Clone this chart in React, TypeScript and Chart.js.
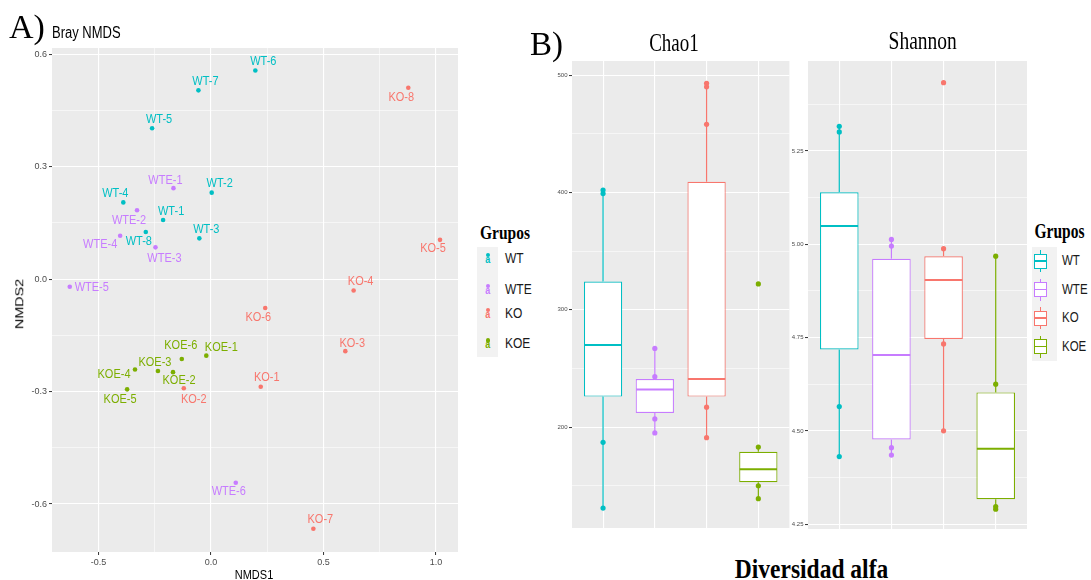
import React, { useEffect, useRef } from "react";
import { Chart, registerables } from "chart.js";

Chart.register(...registerables);

const SANS = '"Liberation Sans", Arial, Helvetica, sans-serif';
const SERIF = '"Liberation Serif", "Times New Roman", Times, serif';

const groups = ["WT", "WTE", "KO", "KOE"];
const groupColors = ["#00BFC4", "#C77CFF", "#F8766D", "#7CAE00"];

// ---------- Panel A: Bray NMDS ----------
const wtSamples = ["WT-1", "WT-2", "WT-3", "WT-4", "WT-5", "WT-6", "WT-7", "WT-8"];
const wtNMDS1 = [-0.213, 0.003, -0.052, -0.39, -0.262, 0.197, -0.056, -0.29];
const wtNMDS2 = [0.158, 0.231, 0.109, 0.205, 0.403, 0.557, 0.504, 0.126];

const wteSamples = ["WTE-1", "WTE-2", "WTE-3", "WTE-4", "WTE-5", "WTE-6"];
const wteNMDS1 = [-0.167, -0.329, -0.247, -0.404, -0.628, 0.11];
const wteNMDS2 = [0.243, 0.184, 0.085, 0.116, -0.02, -0.543];

const koSamples = ["KO-1", "KO-2", "KO-3", "KO-4", "KO-5", "KO-6", "KO-7", "KO-8"];
const koNMDS1 = [0.221, -0.121, 0.597, 0.634, 1.018, 0.241, 0.455, 0.877];
const koNMDS2 = [-0.287, -0.291, -0.192, -0.03, 0.105, -0.077, -0.666, 0.511];

const koeSamples = ["KOE-1", "KOE-2", "KOE-3", "KOE-4", "KOE-5", "KOE-6"];
const koeNMDS1 = [-0.021, -0.169, -0.236, -0.338, -0.373, -0.13];
const koeNMDS2 = [-0.204, -0.248, -0.245, -0.241, -0.294, -0.213];

// repelled label placement (pixel offsets from each point)
const wtLabelOffsets = [[8, -9], [8, -9], [7, -9], [-8, -9], [7, -9], [8, -9], [7, -9], [-7, 9]];
const wteLabelOffsets = [[-8, -8], [-8, 10], [9, 11], [-20, 9], [22, 1], [-7, 9]];
const koLabelOffsets = [[6, -9], [10, 11], [7, -8], [7, -9], [-7, 9], [-7, 9], [7, -9], [-7, 10]];
const koeLabelOffsets = [[15, -8], [6, 8], [-3, -9], [-21, 5], [-7, 10], [-1, -14]];

const nmds1Ticks = [-0.5, 0, 0.5, 1.0];
const nmds1MinorTicks = [-0.25, 0.25, 0.75];
const nmds2Ticks = [-0.6, -0.3, 0, 0.3, 0.6];
const nmds2MinorTicks = [-0.45, -0.15, 0.15, 0.45];
const nmds1Range = [-0.707, 1.098];
const nmds2Range = [-0.728, 0.617];

// ---------- Panel B: alpha diversity ----------
const chao1Min = [131, 195, 191, 139];
const chao1Q1 = [226, 212, 226, 153];
const chao1Median = [270, 232, 241, 164];
const chao1Q3 = [324, 241, 409, 179];
const chao1Max = [401, 267, 492, 183];
const chao1Points = [
  [402, 399, 187, 131],
  [267, 243, 207, 195],
  [493, 490, 458, 217, 191],
  [322, 183, 150, 139],
];
const chao1Ticks = [200, 300, 400, 500];
const chao1MinorTicks = [150, 250, 350, 450];
const chao1Range = [114, 512];

const shannonMin = [4.431, 4.435, 4.5, 4.29];
const shannonQ1 = [4.718, 4.477, 4.746, 4.317];
const shannonMedian = [5.049, 4.703, 4.904, 4.452];
const shannonQ3 = [5.139, 4.961, 4.968, 4.603];
const shannonMax = [5.316, 5.013, 4.988, 4.968];
const shannonPoints = [
  [5.316, 5.301, 4.565, 4.431],
  [5.013, 4.995, 4.455, 4.435],
  [5.433, 4.988, 4.733, 4.5],
  [4.968, 4.625, 4.297, 4.29],
];
const shannonTicks = [4.25, 4.5, 4.75, 5.0, 5.25];
const shannonMinorTicks = [4.375, 4.625, 4.875, 5.125, 5.375];
const shannonRange = [4.237, 5.491];

// ---------- helpers ----------
const near = (a: number, b: number) => Math.abs(a - b) < 1e-7;

function valueAxis(o: {
  min: number; max: number; major: number[]; minor: number[];
  fmt: (v: number) => string; fit: number; vertical: boolean;
  fontSize: number; tickLen: number; pad: number; labels: boolean;
  majorWidth: number; minorWidth: number;
}) {
  const isMajor = (v: number) => o.major.some((m) => near(m, v));
  return {
    type: "linear",
    min: o.min,
    max: o.max,
    offset: false,
    afterBuildTicks: (s: any) => {
      s.ticks = [...o.major, ...o.minor].sort((a, b) => a - b).map((v) => ({ value: v }));
    },
    afterFit: (s: any) => {
      if (o.vertical) s.width = o.fit;
      else s.height = o.fit;
    },
    border: { display: false },
    grid: {
      offset: false,
      color: "#FFFFFF",
      lineWidth: (c: any) => (c.tick && isMajor(c.tick.value) ? o.majorWidth : o.minorWidth),
      drawTicks: o.labels,
      tickLength: o.tickLen,
      tickWidth: 1,
      tickColor: (c: any) => (c.tick && isMajor(c.tick.value) ? "#333333" : "rgba(0,0,0,0)"),
    },
    ticks: {
      display: o.labels,
      autoSkip: false,
      maxRotation: 0,
      minRotation: 0,
      padding: o.pad,
      color: "#4D4D4D",
      font: { family: SANS, size: o.fontSize },
      callback: (v: any) => (isMajor(Number(v)) ? o.fmt(Number(v)) : ""),
    },
  };
}

const panelBg = {
  id: "panelBg",
  beforeDraw(chart: any) {
    const { ctx, chartArea: a } = chart;
    ctx.save();
    ctx.fillStyle = "#EBEBEB";
    ctx.fillRect(a.left, a.top, a.right - a.left, a.bottom - a.top);
    ctx.restore();
  },
};

function buildNmds(canvas: HTMLCanvasElement) {
  const names = [wtSamples, wteSamples, koSamples, koeSamples];
  const xs = [wtNMDS1, wteNMDS1, koNMDS1, koeNMDS1];
  const ys = [wtNMDS2, wteNMDS2, koNMDS2, koeNMDS2];
  const offsets = [wtLabelOffsets, wteLabelOffsets, koLabelOffsets, koeLabelOffsets];

  const labelPlugin = {
    id: "sampleLabels",
    afterDatasetsDraw(chart: any) {
      const ctx = chart.ctx;
      ctx.save();
      ctx.font = `11px ${SANS}`;
      ctx.textAlign = "center";
      ctx.textBaseline = "middle";
      groups.forEach((_, gi) => {
        const meta = chart.getDatasetMeta(gi);
        meta.data.forEach((pt: any, j: number) => {
          const [dx, dy] = offsets[gi][j];
          ctx.fillStyle = groupColors[gi];
          ctx.save();
          ctx.translate(pt.x + dx, pt.y + dy);
          ctx.scale(1, 1.2);
          ctx.fillText(names[gi][j], 0, 0);
          ctx.restore();
        });
      });
      ctx.restore();
    },
  };

  return new Chart(canvas, {
    type: "scatter",
    data: {
      datasets: groups.map((g, gi) => ({
        label: g,
        data: xs[gi].map((x, j) => ({ x, y: ys[gi][j] })),
        backgroundColor: groupColors[gi],
        borderColor: groupColors[gi],
        borderWidth: 0,
        pointRadius: 2.3,
        pointHoverRadius: 2.3,
      })),
    },
    options: {
      responsive: false,
      maintainAspectRatio: false,
      animation: false,
      events: [],
      layout: { padding: { left: 0, right: 12, top: 8, bottom: 0 } },
      plugins: { legend: { display: false }, tooltip: { enabled: false } },
      scales: {
        x: valueAxis({
          min: nmds1Range[0], max: nmds1Range[1], major: nmds1Ticks, minor: nmds1MinorTicks,
          fmt: (v) => v.toFixed(1), fit: 28, vertical: false, fontSize: 9, tickLen: 3, pad: 2,
          labels: true, majorWidth: 1.1, minorWidth: 0.55,
        }),
        y: valueAxis({
          min: nmds2Range[0], max: nmds2Range[1], major: nmds2Ticks, minor: nmds2MinorTicks,
          fmt: (v) => v.toFixed(1), fit: 52, vertical: true, fontSize: 9, tickLen: 3, pad: 2,
          labels: true, majorWidth: 1.1, minorWidth: 0.55,
        }),
      } as any,
    },
    plugins: [panelBg, labelPlugin],
  } as any);
}

function buildBox(
  canvas: HTMLCanvasElement,
  s: {
    min: number[]; q1: number[]; median: number[]; q3: number[]; max: number[];
    points: number[][]; range: number[]; major: number[]; minor: number[];
    fmt: (v: number) => string; yFit: number; xFit: number; padRight: number; padTop: number;
  }
) {
  const boxParts = {
    id: "boxParts",
    beforeDatasetsDraw(chart: any) {
      const ctx = chart.ctx;
      const meta = chart.getDatasetMeta(1);
      const y = chart.scales.y;
      ctx.save();
      ctx.lineWidth = 1.2;
      meta.data.forEach((el: any, i: number) => {
        ctx.strokeStyle = groupColors[i];
        ctx.beginPath();
        ctx.moveTo(el.x, y.getPixelForValue(s.max[i]));
        ctx.lineTo(el.x, y.getPixelForValue(s.q3[i]));
        ctx.moveTo(el.x, y.getPixelForValue(s.q1[i]));
        ctx.lineTo(el.x, y.getPixelForValue(s.min[i]));
        ctx.stroke();
      });
      ctx.restore();
    },
    afterDatasetsDraw(chart: any) {
      const ctx = chart.ctx;
      const meta = chart.getDatasetMeta(1);
      const y = chart.scales.y;
      ctx.save();
      ctx.lineWidth = 2;
      meta.data.forEach((el: any, i: number) => {
        const half = el.width / 2;
        const py = y.getPixelForValue(s.median[i]);
        ctx.strokeStyle = groupColors[i];
        ctx.beginPath();
        ctx.moveTo(el.x - half + 0.5, py);
        ctx.lineTo(el.x + half - 0.5, py);
        ctx.stroke();
      });
      ctx.restore();
    },
  };

  const pts: { x: number; y: number }[] = [];
  const ptColors: string[] = [];
  s.points.forEach((arr, gi) =>
    arr.forEach((v) => {
      pts.push({ x: gi + 1, y: v });
      ptColors.push(groupColors[gi]);
    })
  );

  return new Chart(canvas, {
    type: "bar",
    data: {
      datasets: [
        {
          type: "scatter",
          label: "points",
          data: pts,
          backgroundColor: ptColors,
          borderColor: ptColors,
          borderWidth: 0,
          pointRadius: 2.6,
          pointHoverRadius: 2.6,
          order: 0,
        },
        {
          type: "bar",
          label: "boxes",
          data: groups.map((_, i) => ({ x: i + 1, y: [s.q1[i], s.q3[i]] })),
          backgroundColor: "#FFFFFF",
          borderColor: groupColors,
          borderWidth: 1.2,
          borderSkipped: false,
          barPercentage: 0.74,
          categoryPercentage: 1,
          order: 1,
        },
      ],
    },
    options: {
      responsive: false,
      maintainAspectRatio: false,
      animation: false,
      events: [],
      layout: { padding: { left: 0, right: s.padRight, top: s.padTop, bottom: 0 } },
      plugins: { legend: { display: false }, tooltip: { enabled: false } },
      scales: {
        x: {
          type: "linear",
          min: 0.4,
          max: 4.6,
          offset: false,
          afterBuildTicks: (sc: any) => {
            sc.ticks = groups.map((_, i) => ({ value: i + 1 }));
          },
          afterFit: (sc: any) => {
            sc.height = s.xFit;
          },
          border: { display: false },
          grid: { offset: false, color: "#FFFFFF", lineWidth: 1.1, drawTicks: false },
          ticks: { display: false },
        },
        y: valueAxis({
          min: s.range[0], max: s.range[1], major: s.major, minor: s.minor, fmt: s.fmt,
          fit: s.yFit, vertical: true, fontSize: 6, tickLen: 3, pad: 1.5, labels: true,
          majorWidth: 1.1, minorWidth: 0.55,
        }),
      } as any,
    },
    plugins: [panelBg, boxParts],
  } as any);
}

function Txt(p: {
  x: number; y: number; text: string; size: number; family?: string; weight?: string | number;
  sy?: number; align?: "left" | "center"; color?: string;
}) {
  const center = p.align === "center";
  return (
    <div
      style={{
        position: "absolute",
        left: p.x,
        top: p.y,
        fontFamily: p.family || SANS,
        fontSize: p.size,
        fontWeight: (p.weight as any) || "normal",
        lineHeight: 1,
        whiteSpace: "nowrap",
        color: p.color || "#000000",
        transform: `translate(${center ? "-50%" : "0"}, -50%) scaleY(${p.sy || 1})`,
        transformOrigin: center ? "50% 50%" : "0 50%",
      }}
    >
      {p.text}
    </div>
  );
}

const legendAy = [257.5, 288.5, 312.5, 343];
const legendBy = [261, 289.5, 318, 346.5];

export default function App() {
  const aRef = useRef<HTMLCanvasElement>(null);
  const chaoRef = useRef<HTMLCanvasElement>(null);
  const shanRef = useRef<HTMLCanvasElement>(null);

  useEffect(() => {
    const charts = [
      buildNmds(aRef.current!),
      buildBox(chaoRef.current!, {
        min: chao1Min, q1: chao1Q1, median: chao1Median, q3: chao1Q3, max: chao1Max,
        points: chao1Points, range: chao1Range, major: chao1Ticks, minor: chao1MinorTicks,
        fmt: (v) => v.toFixed(0), yFit: 32, xFit: 12, padRight: 2, padTop: 11,
      }),
      buildBox(shanRef.current!, {
        min: shannonMin, q1: shannonQ1, median: shannonMedian, q3: shannonQ3, max: shannonMax,
        points: shannonPoints, range: shannonRange, major: shannonTicks, minor: shannonMinorTicks,
        fmt: (v) => v.toFixed(2), yFit: 18, xFit: 11, padRight: 5, padTop: 11,
      }),
    ];
    return () => charts.forEach((c) => c.destroy());
  }, []);

  return (
    <div
      style={{
        position: "absolute",
        left: 0,
        top: 0,
        width: 1091,
        height: 580,
        overflow: "hidden",
        background: "#FFFFFF",
      }}
    >
      {/* Panel A */}
      <canvas ref={aRef} width={470} height={540} style={{ position: "absolute", left: 0, top: 40, width: 470, height: 540 }} />
      <Txt x={9} y={27} text="A)" size={34} family={SERIF} />
      <Txt x={52} y={32.5} text="Bray NMDS" size={13} sy={1.2} />
      <Txt x={254} y={575} text="NMDS1" size={11} sy={1.2} align="center" />
      <div
        style={{
          position: "absolute",
          left: 19.5,
          top: 304,
          fontFamily: SANS,
          fontSize: 11.5,
          lineHeight: 1,
          whiteSpace: "nowrap",
          transform: "translate(-50%, -50%) rotate(-90deg) scale(1.25, 1)",
          transformOrigin: "50% 50%",
        }}
      >
        NMDS2
      </div>
      <Txt x={480} y={233} text="Grupos" size={15.5} family={SERIF} weight="bold" sy={1.15} />
      <div style={{ position: "absolute", left: 477, top: 247, width: 21, height: 110, background: "#F2F2F2" }} />
      {groups.map((g, i) => (
        <React.Fragment key={"la" + g}>
          <div
            style={{
              position: "absolute",
              left: 485.5,
              top: legendAy[i] - 5,
              width: 4.5,
              height: 4.5,
              borderRadius: 3,
              background: groupColors[i],
            }}
          />
          <div
            style={{
              position: "absolute",
              left: 487.7,
              top: legendAy[i] + 2,
              transform: "translate(-50%, -50%) scaleY(1.2)",
              color: groupColors[i],
              fontFamily: SANS,
              fontWeight: "bold",
              fontSize: 9,
              lineHeight: 1,
            }}
          >
            a
          </div>
          <Txt x={505} y={legendAy[i]} text={g} size={12} sy={1.25} color="#1A1A1A" />
        </React.Fragment>
      ))}

      {/* Panel B */}
      <canvas ref={chaoRef} width={252} height={490} style={{ position: "absolute", left: 540, top: 50, width: 252, height: 490 }} />
      <canvas ref={shanRef} width={242} height={490} style={{ position: "absolute", left: 790, top: 50, width: 242, height: 490 }} />
      <Txt x={530} y={44} text="B)" size={33} family={SERIF} />
      <Txt x={674} y={43} text="Chao1" size={19} family={SERIF} sy={1.3} align="center" />
      <Txt x={922.7} y={41} text="Shannon" size={19.5} family={SERIF} sy={1.3} align="center" />
      <Txt x={1034.5} y={231} text="Grupos" size={15.5} family={SERIF} weight="bold" sy={1.3} />
      <div style={{ position: "absolute", left: 1031.5, top: 247, width: 25, height: 114, background: "#F2F2F2" }} />
      {groups.map((g, i) => {
        const cy = legendBy[i];
        return (
          <React.Fragment key={"lb" + g}>
            <div style={{ position: "absolute", left: 1039.6, top: cy - 11, width: 1.6, height: 22, background: groupColors[i] }} />
            <div
              style={{
                position: "absolute",
                left: 1033.5,
                top: cy - 7.5,
                width: 13.8,
                height: 15,
                boxSizing: "border-box",
                border: `1.6px solid ${groupColors[i]}`,
                background: "#FFFFFF",
              }}
            />
            <div style={{ position: "absolute", left: 1033.5, top: cy - 0.9, width: 13.8, height: 1.8, background: groupColors[i] }} />
            <Txt x={1062} y={cy} text={g} size={11.5} sy={1.35} color="#1A1A1A" />
          </React.Fragment>
        );
      })}
      <Txt x={811.5} y={569.5} text="Diversidad alfa" size={23.5} family={SERIF} weight="bold" sy={1.13} align="center" />
    </div>
  );
}
